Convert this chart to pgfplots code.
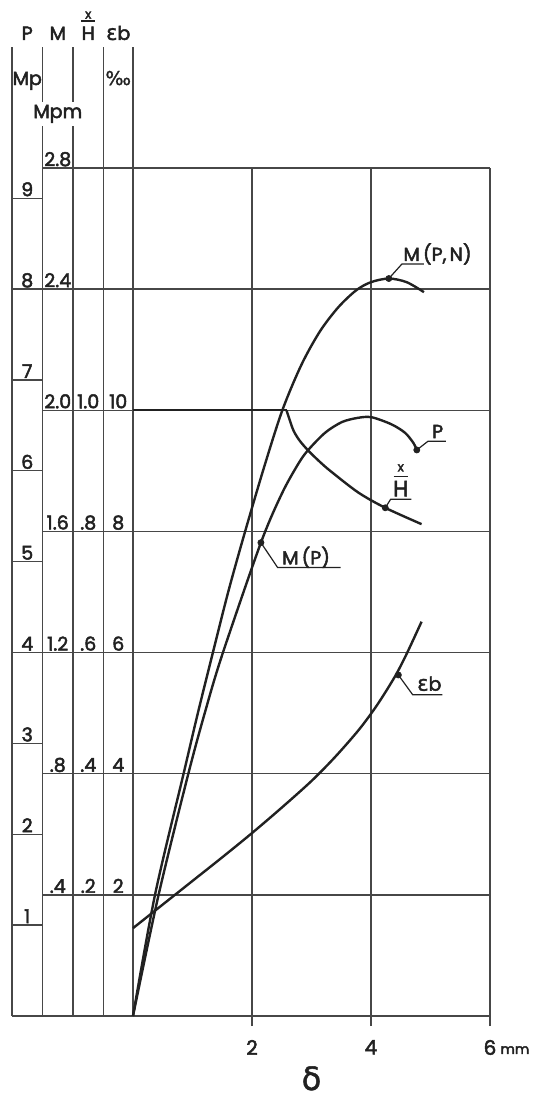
\documentclass[border=0pt]{standalone}
\usepackage{fontspec}
\setmainfont{Poppins}[FakeBold=2.5]
\newfontfamily\grk{DejaVu Sans}[FakeBold=1.5]
\usepackage{pgfplots}
\usepackage{pgfplotstable}
\pgfplotsset{compat=1.18}

\definecolor{ink}{gray}{0.13}
\definecolor{rule}{gray}{0.28}

% deflection delta [mm] against moment M, full interaction M(P,N)
\pgfplotstableread{
d M
0    0
0.37 0.40
0.85 0.80
1.09 1.00
1.33 1.19
1.60 1.40
1.87 1.59
2.20 1.81
2.51 2.00
2.83 2.15
3.14 2.26
3.45 2.34
3.75 2.396
4.00 2.423
4.30 2.435
4.60 2.423
4.89 2.39
}\mpn

% moment from the load alone, M(P) = 0.3 P
\pgfplotstableread{
d M
0    0
0.43 0.40
0.93 0.80
1.22 1.01
1.50 1.193
2.15 1.563
2.51 1.728
2.79 1.827
2.95 1.870
3.23 1.926
3.51 1.961
3.78 1.975
4.01 1.977
4.34 1.954
4.57 1.926
4.71 1.893
4.77 1.869
}\mp

% depth of compression zone x/H
\pgfplotstableread{
d xH
0    1.000
2.58 1.000
2.63 0.985
2.70 0.966
2.80 0.950
2.95 0.933
3.15 0.914
3.34 0.898
3.79 0.864
4.24 0.839
4.85 0.812
}\xh

% concrete strain eps_b [permille]
\pgfplotstableread{
d eps
0    1.45
0.50 1.84
1.00 2.23
1.50 2.62
2.00 3.02
2.50 3.44
3.00 3.88
3.40 4.28
3.80 4.73
4.10 5.13
4.40 5.60
4.60 5.98
4.85 6.51
}\eb

\pgfplotsset{
  crv/.style={draw=ink, line width=1.2pt, mark=none, smooth, tension=0.5},
  dot/.style={only marks, mark=*, mark size=1.5pt, mark options={fill=ink, draw=ink}},
}
\tikzset{
  lbl/.style={font=\fontsize{9.5}{11}\selectfont, text=ink, inner sep=0pt},
  rl/.style={draw=rule, line width=0.65pt},
  lead/.style={draw=ink, line width=0.6pt},
}

\begin{document}
\begin{tikzpicture}
\begin{axis}[
  at={(66.5pt,40.5pt)}, anchor=south west,
  scale only axis, width=178.5pt, height=424pt,
  xmin=0, xmax=6, ymin=0, ymax=2.8,
  clip=false,
  axis x line=bottom, axis y line=none,
  x axis line style={draw=none},
  xtick={2,4,6}, xticklabels={2,4,6},
  tick align=outside, major tick length=5pt,
  xtick style={draw=rule, line width=0.65pt},
  ytick=\empty,
  xticklabel style={font=\fontsize{10}{12}\selectfont, text=ink, yshift=-3.5pt},
]
% frame, grid and the scale columns on the left
\draw[rl] (-2.034,0) -- (6,0);
\draw[rl] (6,0) -- (6,2.8);
\draw[rl] (2,0) -- (2,2.8);
\draw[rl] (4,0) -- (4,2.8);
\draw[rl] (0,0) -- (0,3.2);
\draw[rl] (-2.034,0) -- (-2.034,3.2);
\draw[rl] (-1.521,0) -- (-1.521,3.2);
\draw[rl] (-1.008,0) -- (-1.008,3.2);
\draw[rl] (-0.496,0) -- (-0.496,3.2);
\pgfplotsinvokeforeach{0.4,0.8,1.2,1.6,2.0,2.4,2.8}{
  \draw[rl] (-1.521,#1) -- (6,#1);
}
\pgfplotsinvokeforeach{1,2,3,4,5,6,7,8,9}{
  \draw[rl] (-2.034,{0.3*#1}) -- (-1.521,{0.3*#1});
  \node[lbl, anchor=base, yshift=1pt] at (-1.7775,{0.3*#1}) {#1};
}
% M column
\node[lbl, anchor=base, yshift=1pt] at (-1.2645,2.8) {2.8};
\node[lbl, anchor=base, yshift=1pt] at (-1.2645,2.4) {2.4};
\node[lbl, anchor=base, yshift=1pt] at (-1.2645,2.0) {2.0};
\node[lbl, anchor=base, yshift=1pt] at (-1.2645,1.6) {1.6};
\node[lbl, anchor=base, yshift=1pt] at (-1.2645,1.2) {1.2};
\node[lbl, anchor=base, yshift=1pt] at (-1.2645,0.8) {.8};
\node[lbl, anchor=base, yshift=1pt] at (-1.2645,0.4) {.4};
% x/H column
\node[lbl, anchor=base, yshift=1pt] at (-0.752,2.0) {1.0};
\node[lbl, anchor=base, yshift=1pt] at (-0.752,1.6) {.8};
\node[lbl, anchor=base, yshift=1pt] at (-0.752,1.2) {.6};
\node[lbl, anchor=base, yshift=1pt] at (-0.752,0.8) {.4};
\node[lbl, anchor=base, yshift=1pt] at (-0.752,0.4) {.2};
% eps_b column
\node[lbl, anchor=base, yshift=1pt] at (-0.248,2.0) {10};
\node[lbl, anchor=base, yshift=1pt] at (-0.248,1.6) {8};
\node[lbl, anchor=base, yshift=1pt] at (-0.248,1.2) {6};
\node[lbl, anchor=base, yshift=1pt] at (-0.248,0.8) {4};
\node[lbl, anchor=base, yshift=1pt] at (-0.248,0.4) {2};
% column headings
\node[lbl, anchor=base] at (-1.7775,3.223) {P};
\node[lbl, anchor=base] at (-1.2645,3.223) {M};
\node[lbl, anchor=base] at (-0.752,3.223) {H};
\draw[draw=ink, line width=0.7pt] (-0.868,3.285) -- (-0.636,3.285);
\node[lbl, anchor=base, font=\fontsize{6.5}{7}\selectfont] at (-0.752,3.293) {x};
\node[lbl, anchor=base] at (-0.248,3.223) {{\grk\fontsize{10.5}{11}\selectfont ε}b};
\node[lbl, anchor=base] at (-1.7775,3.074) {Mp};
\node[lbl, anchor=base] at (-0.248,3.074) {{\grk ‰}};
\node[lbl, anchor=base, fill=white, inner sep=1.5pt] at (-1.2645,2.965) {Mpm};

% curves
\addplot[crv] table[x=d, y=M] {\mpn};
\addplot[crv] table[x=d, y=M] {\mp};
\addplot[draw=ink, line width=1.2pt, mark=none, restrict x to domain=0:2.59] table[x=d, y expr=2*\thisrow{xH}] {\xh};
\addplot[crv, restrict x to domain=2.57:5] table[x=d, y expr=2*\thisrow{xH}] {\xh};
\addplot[crv] table[x=d, y expr=\thisrow{eps}/5] {\eb};

% reference points on the curves
\addplot[dot] coordinates {(4.30,2.435) (2.15,1.563) (4.77,1.869) (4.24,1.678) (4.46,1.126)};

% curve labels with leaders
\draw[lead] (4.30,2.435) -- (4.52,2.483) -- (4.89,2.483);
\node[lbl, anchor=base west, yshift=1.5pt] at (4.54,2.483) {M\,(P,\,N)};
\draw[lead] (4.77,1.869) -- (4.96,1.898) -- (5.26,1.898);
\node[lbl, anchor=base, yshift=1.5pt] at (5.12,1.898) {P};
\draw[lead] (4.24,1.678) -- (4.33,1.706) -- (4.68,1.706);
\node[lbl, anchor=base, yshift=1.5pt, font=\fontsize{11}{12}\selectfont] at (4.50,1.706) {H};
\draw[draw=ink, line width=0.7pt] (4.38,1.782) -- (4.63,1.782);
\node[lbl, anchor=base, font=\fontsize{6.5}{7}\selectfont] at (4.50,1.798) {x};
\draw[lead] (2.15,1.563) -- (2.43,1.481) -- (3.49,1.481);
\node[lbl, anchor=base west, yshift=1.5pt] at (2.50,1.481) {M\,(P)};
\draw[lead] (4.46,1.126) -- (4.70,1.061) -- (5.20,1.061);
\node[lbl, anchor=base, yshift=2pt] at (4.98,1.061) {{\grk\fontsize{10.5}{11}\selectfont ε}b};

% axis name and unit
\node[lbl, anchor=base west, yshift=-19pt, font=\fontsize{7}{8}\selectfont] at (6.17,0) {mm};
\node[lbl, anchor=base, yshift=-37pt, font=\grk\fontsize{16}{17}\selectfont] at (3,0) {δ};
\end{axis}
\pgfresetboundingbox
\path[use as bounding box] (0,0) rectangle (267pt,548.5pt);
\end{tikzpicture}
\end{document}
